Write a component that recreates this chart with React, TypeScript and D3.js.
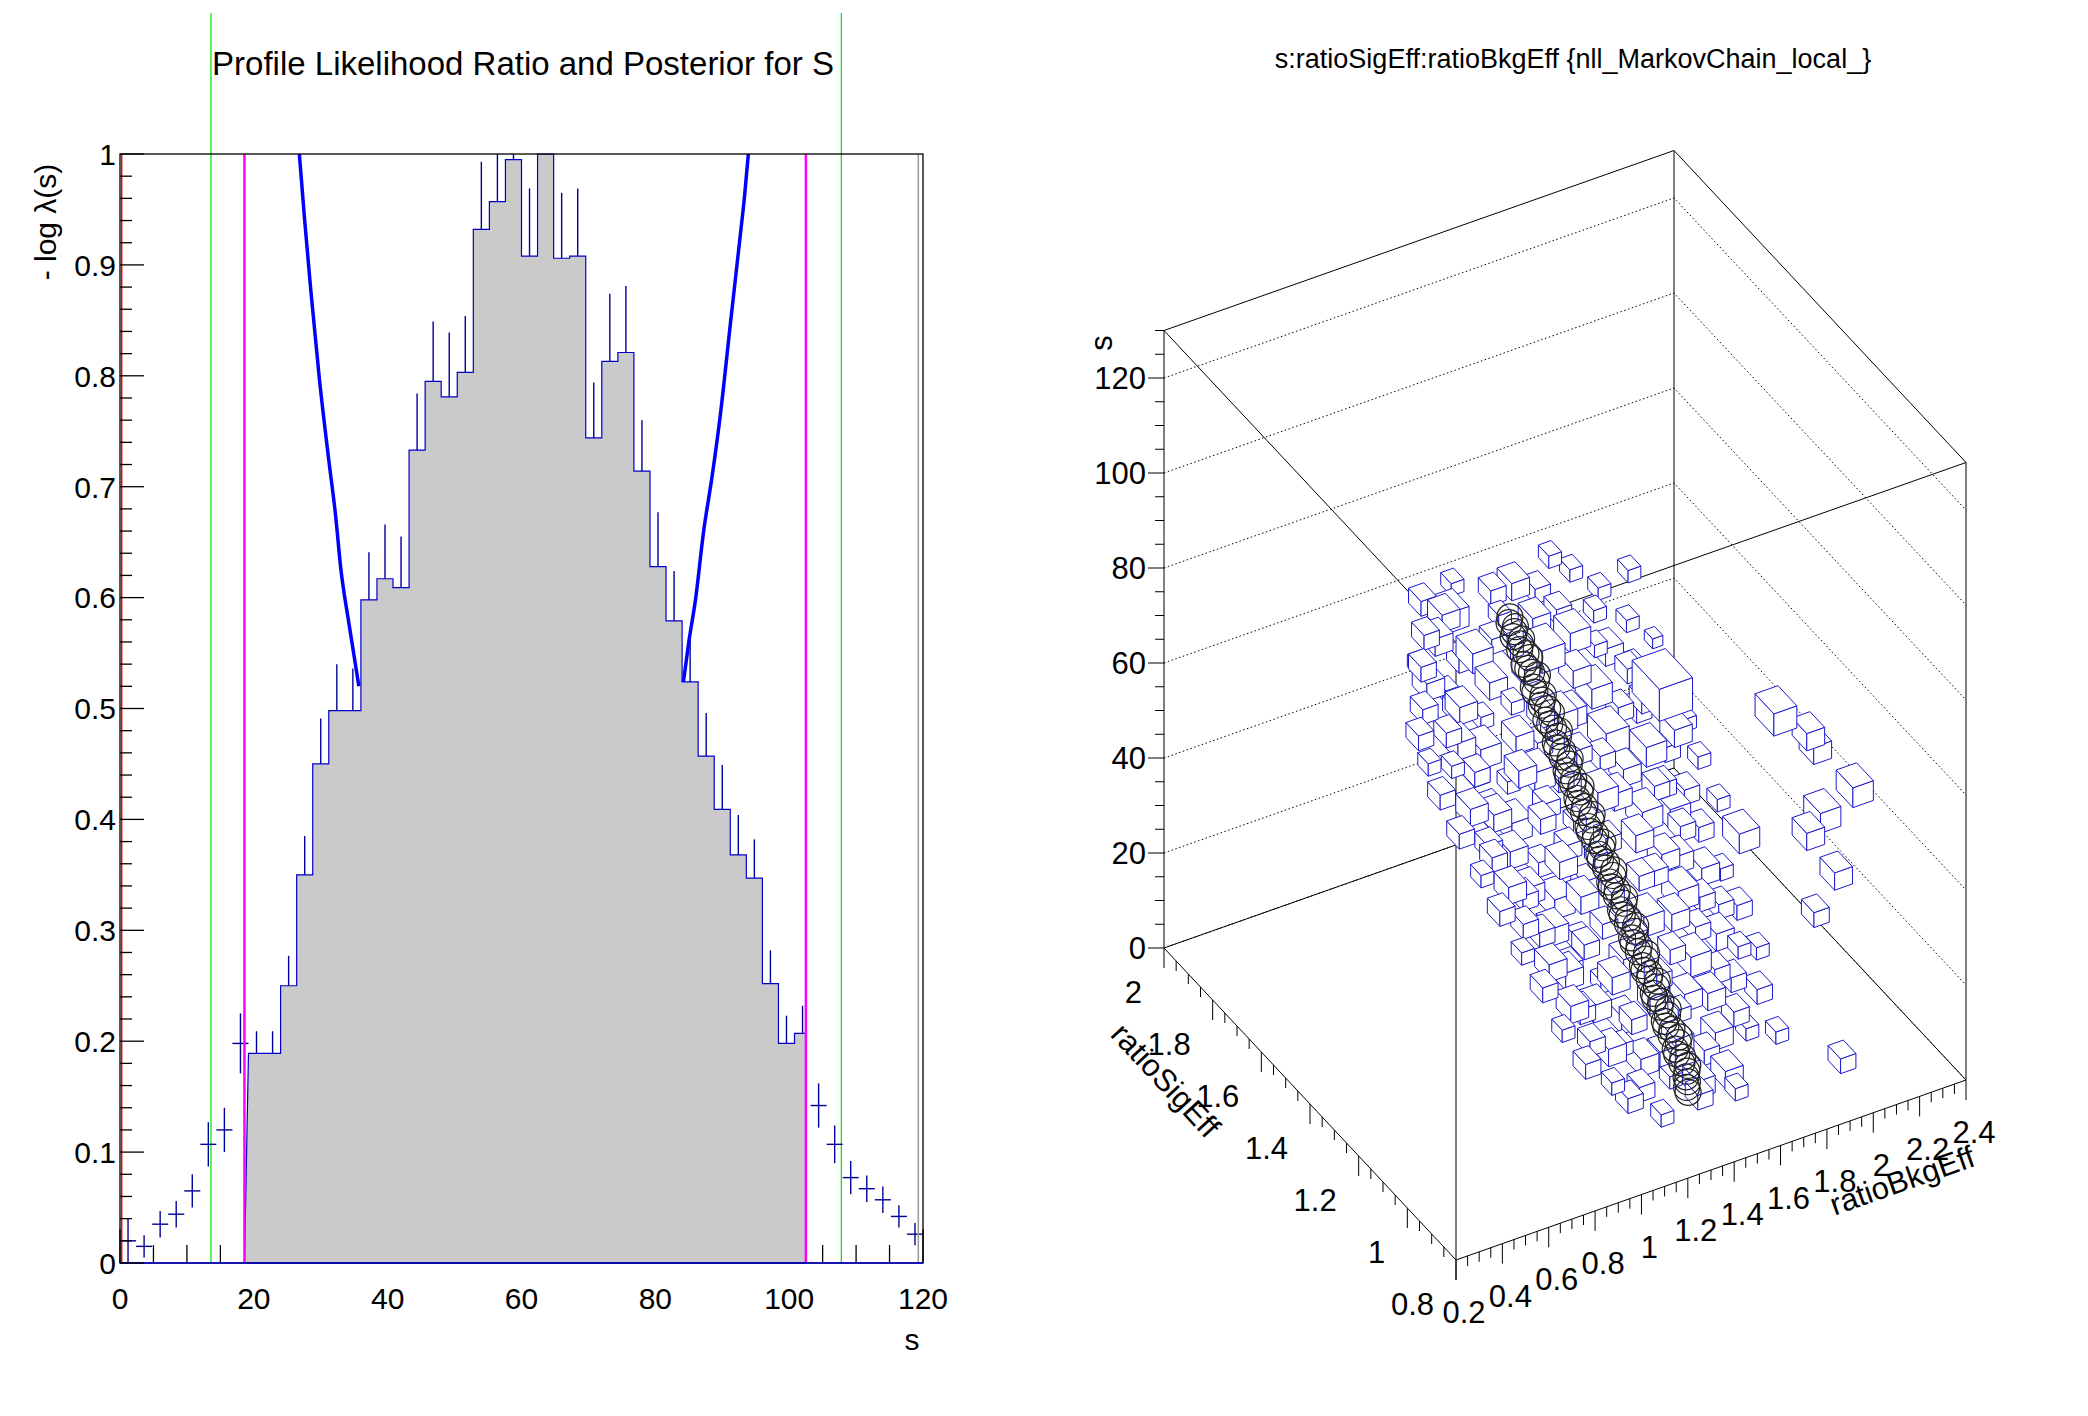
import React from "react";
import * as d3 from "d3";

// ---------- Left panel data ----------
const binWidth = 2.4;
const histFirstBin = 8;
const histValues = [0.189, 0.189, 0.25, 0.35, 0.45, 0.498, 0.498, 0.598, 0.617, 0.609, 0.733, 0.795, 0.781, 0.803, 0.932, 0.957, 0.995, 0.908, 1.02, 0.906, 0.908, 0.744, 0.813, 0.821, 0.714, 0.628, 0.579, 0.524, 0.457, 0.409, 0.368, 0.347, 0.252, 0.198, 0.207];
const pointValues = [0.02, 0.015, 0.035, 0.044, 0.065, 0.107, 0.12, 0.198, 0.189, 0.189, 0.25, 0.35, 0.45, 0.498, 0.498, 0.598, 0.617, 0.609, 0.733, 0.795, 0.781, 0.803, 0.932, 0.957, 0.995, 0.908, 1.02, 0.906, 0.908, 0.744, 0.813, 0.821, 0.714, 0.628, 0.579, 0.524, 0.457, 0.409, 0.368, 0.347, 0.252, 0.198, 0.207, 0.142, 0.107, 0.077, 0.067, 0.057, 0.042, 0.026];
const pointErrors = [0.02, 0.01, 0.012, 0.012, 0.015, 0.02, 0.02, 0.027, 0.02, 0.02, 0.027, 0.035, 0.041, 0.042, 0.038, 0.043, 0.049, 0.046, 0.051, 0.054, 0.058, 0.051, 0.061, 0.06, 0.06, 0.061, 0.06, 0.059, 0.061, 0.05, 0.061, 0.06, 0.046, 0.049, 0.045, 0.045, 0.039, 0.04, 0.036, 0.035, 0.03, 0.025, 0.025, 0.02, 0.017, 0.015, 0.012, 0.012, 0.01, 0.01];
const curveLeft: [number, number][] = [[26.8, 1.0], [27.6, 0.94], [28.5, 0.878], [29.8, 0.797], [31.2, 0.724], [32.2, 0.675], [33.0, 0.626], [34.2, 0.577], [35.7, 0.52]];
const curveRight: [number, number][] = [[84.2, 0.524], [85.0, 0.56], [86.0, 0.598], [87.2, 0.659], [88.5, 0.71], [89.7, 0.764], [91.2, 0.846], [92.7, 0.927], [93.3, 0.96], [93.9, 1.0]];
const greenLines = [13.6, 107.8];
const magentaLines = [18.6, 102.5];
const redLines = [0.25, 119.3];
const xTicksL = [0, 20, 40, 60, 80, 100, 120];
const yTicksL = [0, 0.1, 0.2, 0.3, 0.4, 0.5, 0.6, 0.7, 0.8, 0.9, 1];

// ---------- Right panel data ----------
const sTicks = [0, 20, 40, 60, 80, 100, 120];
const sigTicks = [0.8, 1, 1.2, 1.4, 1.6, 1.8, 2];
const bkgTicks = [0.2, 0.4, 0.6, 0.8, 1, 1.2, 1.4, 1.6, 1.8, 2, 2.2, 2.4];
// boxes: [ratioBkgEff, ratioSigEff, s, relative size]
const boxes: number[][] = [
  [1.0, 1.7, 76, .6], [1.15, 1.72, 76, .5], [1.35, 1.66, 76, .7], [1.55, 1.7, 76, .5], [0.79, 1.5, 76.7, .6], [1.51, 1.2, 76.6, 1.3],
  [0.95, 1.64, 73, .6], [1.1, 1.68, 73, .8], [1.25, 1.62, 73, .5], [1.45, 1.66, 73, .6], [1.62, 1.68, 73, .5],
  [0.88, 1.6, 70, .5], [1.02, 1.66, 70, .7], [1.2, 1.6, 70, .6], [1.5, 1.62, 70, .6], [1.7, 1.64, 70, .5], [1.85, 1.66, 70, .5],
  [0.9, 1.58, 67, .7], [1.08, 1.62, 67, .6], [1.28, 1.6, 67, .5], [1.52, 1.58, 67, .8], [1.66, 1.62, 67, .5],
  [0.85, 1.55, 64, .6], [0.98, 1.58, 64, .5], [1.15, 1.56, 64, .7], [1.42, 1.6, 64, .9], [1.6, 1.56, 64, .5], [1.78, 1.6, 64, .5],
  [0.8, 1.52, 61, .6], [1.0, 1.56, 61, .6], [1.2, 1.52, 61, .5], [1.5, 1.55, 61, .7], [1.68, 1.5, 61, .6], [1.85, 1.56, 61, .4],
  [0.95, 1.5, 58, .7], [1.1, 1.55, 58, .5], [1.3, 1.5, 58, .6], [1.55, 1.52, 58, .8], [1.75, 1.55, 58, .5],
  [0.9, 1.48, 55, .5], [1.05, 1.5, 55, .8], [1.25, 1.46, 55, .6], [1.45, 1.52, 55, .7], [1.62, 1.48, 55, .6], [1.82, 1.5, 55, .5], [0.82, 1.5, 55.8, .5],
  [0.82, 1.45, 52, .6], [1.0, 1.48, 52, .6], [1.15, 1.44, 52, .7], [1.55, 1.46, 52, .9], [1.72, 1.5, 52, .6],
  [0.92, 1.42, 49, .7], [1.12, 1.46, 49, .5], [1.3, 1.42, 49, .6], [1.5, 1.44, 49, .6], [1.68, 1.42, 49, .8], [1.88, 1.46, 49, .5],
  [0.85, 1.4, 46, .6], [1.02, 1.44, 46, .7], [1.22, 1.4, 46, .6], [1.58, 1.42, 46, .7], [1.78, 1.44, 46, .6],
  [0.95, 1.38, 43, .6], [1.1, 1.42, 43, .8], [1.3, 1.36, 43, .5], [1.52, 1.4, 43, .7], [1.7, 1.38, 43, .6], [1.9, 1.42, 43, .5],
  [0.88, 1.34, 40, .5], [1.05, 1.38, 40, .7], [1.25, 1.34, 40, .6], [1.6, 1.36, 40, .8], [1.8, 1.38, 40, .6],
  [0.98, 1.32, 37, .7], [1.15, 1.36, 37, .6], [1.35, 1.32, 37, .5], [1.55, 1.34, 37, .7], [1.72, 1.32, 37, .6], [1.92, 1.36, 37, .5],
  [0.92, 1.3, 34, .6], [1.08, 1.34, 34, .7], [1.28, 1.3, 34, .6], [1.62, 1.3, 34, .7], [1.82, 1.34, 34, .6],
  [1.0, 1.28, 31, .6], [1.18, 1.32, 31, .8], [1.38, 1.28, 31, .5], [1.58, 1.3, 31, .6], [1.75, 1.26, 31, .7],
  [0.95, 1.24, 28, .5], [1.12, 1.28, 28, .7], [1.3, 1.24, 28, .6], [1.65, 1.26, 28, .8], [1.85, 1.28, 28, .5],
  [1.05, 1.22, 25, .7], [1.22, 1.26, 25, .6], [1.42, 1.22, 25, .5], [1.6, 1.24, 25, .7], [1.78, 1.22, 25, .6],
  [1.0, 1.2, 22, .6], [1.15, 1.24, 22, .6], [1.35, 1.2, 22, .7], [1.68, 1.22, 22, .6], [1.88, 1.24, 22, .6],
  [1.08, 1.16, 19, .7], [1.25, 1.2, 19, .5], [1.45, 1.16, 19, .6], [1.62, 1.18, 19, .8], [1.8, 1.16, 19, .5],
  [1.02, 1.14, 16, .5], [1.2, 1.18, 16, .7], [1.4, 1.14, 16, .6], [1.7, 1.16, 16, .6], [1.9, 1.18, 16, .5],
  [1.12, 1.12, 13, .6], [1.3, 1.16, 13, .7], [1.5, 1.12, 13, .5], [1.65, 1.14, 13, .7], [1.82, 1.1, 13, .6],
  [1.08, 1.1, 10, .6], [1.25, 1.12, 10, .5], [1.45, 1.08, 10, .7], [1.72, 1.1, 10, .6],
  [1.15, 1.06, 7, .5], [1.32, 1.1, 7, .7], [1.55, 1.06, 7, .6], [1.75, 1.08, 7, .5],
  [1.2, 1.04, 4, .6], [1.4, 1.06, 4, .5], [1.6, 1.02, 4, .7],
  [1.3, 1.0, 1, .5], [1.48, 1.02, 1, .6], [1.62, 1.0, 1, .5],
  [1.05, 1.66, 74.5, .7], [1.28, 1.68, 74.5, .6], [1.42, 1.64, 68.5, .7], [1.12, 1.6, 68.5, .8],
  [1.0, 1.54, 62.5, .7], [1.32, 1.58, 62.5, .6], [1.65, 1.56, 62.5, .7], [0.92, 1.52, 59.5, .6],
  [1.18, 1.48, 56.5, .7], [1.38, 1.5, 56.5, .8], [1.7, 1.46, 56.5, .6], [0.98, 1.46, 53.5, .6],
  [1.22, 1.44, 50.5, .8], [1.42, 1.46, 50.5, .6], [1.8, 1.42, 50.5, .7], [1.0, 1.4, 47.5, .7],
  [1.18, 1.38, 44.5, .6], [1.45, 1.4, 44.5, .8], [1.65, 1.36, 44.5, .6], [0.95, 1.36, 41.5, .6],
  [1.2, 1.32, 38.5, .7], [1.42, 1.34, 38.5, .6], [1.72, 1.36, 38.5, .8], [1.02, 1.3, 35.5, .6],
  [1.25, 1.28, 32.5, .7], [1.5, 1.28, 32.5, .6], [1.68, 1.3, 32.5, .7], [1.05, 1.26, 29.5, .6],
  [1.2, 1.22, 26.5, .6], [1.48, 1.24, 26.5, .8], [1.72, 1.24, 26.5, .6], [1.1, 1.2, 23.5, .7],
  [1.28, 1.18, 20.5, .7], [1.55, 1.2, 20.5, .6], [1.75, 1.2, 20.5, .7], [1.12, 1.16, 17.5, .6],
  [1.3, 1.12, 14.5, .6], [1.55, 1.14, 14.5, .7], [1.75, 1.14, 14.5, .6], [1.18, 1.1, 11.5, .7],
  [1.38, 1.08, 8.5, .6], [1.62, 1.08, 8.5, .7], [1.25, 1.04, 5.5, .6], [1.5, 1.04, 2.5, .7],
  [2.0, 1.2, 62.7, .9], [2.14, 1.2, 56, .7], [2.17, 1.2, 52.6, .7], [2.34, 1.2, 41.2, .8], [2.2, 1.2, 38.2, .8],
  [2.14, 1.2, 35, .7], [1.85, 1.2, 39.9, .8], [2.26, 1.2, 24.6, .7], [2.17, 1.2, 17.7, .6], [1.97, 0.9, 6.8, .6], [1.69, 0.9, 17.2, .5],
];
// Markov chain circles
const circS = [70.5, 69.8, 69, 68.4, 67.8, 67.1, 66.5, 65.8, 65, 64.3, 63.7, 63, 62.3, 61.7, 61, 60.3, 59.6, 58.9, 58.2, 57.6, 56.9, 56.2, 55.5, 54.8, 54.1, 53.5, 52.8, 52.1, 51.4, 50.7, 50, 49.4, 48.7, 48, 47.3, 46.6, 45.9, 45.3, 44.6, 43.9, 43.2, 42.5, 41.8, 41.2, 40.5, 39.8, 39.1, 38.4, 37.7, 37.1, 36.4, 35.7, 35, 34.3, 33.6, 33, 32.3, 31.6, 30.9, 30.2, 29.5, 28.9, 28.2, 27.5, 26.8, 26.1, 25.4, 24.8, 24.1, 23.4, 22.7, 22, 21.3, 20.7, 20, 19.3, 18.6, 17.9, 17.2, 16.6, 15.9, 15.2, 14.5, 13.8, 13.1, 12.5, 11.8, 11.1, 10.4, 9.7, 9, 8.4, 7.7, 7, 6.3, 5.6, 4.9, 4.3, 3.6, 2.9, 2.2, 1.5, 0.8];
const circG = [1.636, 1.630, 1.623, 1.618, 1.613, 1.607, 1.602, 1.596, 1.589, 1.583, 1.578, 1.572, 1.566, 1.561, 1.555, 1.549, 1.543, 1.537, 1.531, 1.526, 1.519, 1.513, 1.507, 1.501, 1.495, 1.490, 1.484, 1.478, 1.472, 1.466, 1.46, 1.455, 1.449, 1.443, 1.437, 1.431, 1.425, 1.420, 1.414, 1.408, 1.402, 1.396, 1.39, 1.384, 1.378, 1.372, 1.366, 1.360, 1.354, 1.349, 1.343, 1.337, 1.331, 1.325, 1.319, 1.314, 1.308, 1.302, 1.296, 1.290, 1.284, 1.279, 1.273, 1.267, 1.26, 1.254, 1.248, 1.243, 1.237, 1.231, 1.225, 1.219, 1.213, 1.208, 1.202, 1.196, 1.19, 1.184, 1.178, 1.173, 1.167, 1.161, 1.155, 1.149, 1.143, 1.138, 1.131, 1.125, 1.119, 1.113, 1.107, 1.102, 1.096, 1.090, 1.084, 1.078, 1.072, 1.067, 1.061, 1.055, 1.049, 1.043, 1.037];
const circB = [1.31, 1.30, 1.32, 1.31, 1.30, 1.33, 1.32, 1.31, 1.33, 1.34, 1.31, 1.32, 1.33, 1.35, 1.34, 1.32, 1.32, 1.35, 1.34, 1.33, 1.35, 1.36, 1.33, 1.34, 1.35, 1.37, 1.36, 1.34, 1.34, 1.36, 1.35, 1.38, 1.37, 1.35, 1.35, 1.37, 1.36, 1.39, 1.38, 1.36, 1.36, 1.38, 1.37, 1.40, 1.39, 1.37, 1.37, 1.39, 1.38, 1.41, 1.4, 1.38, 1.38, 1.40, 1.39, 1.42, 1.41, 1.39, 1.39, 1.41, 1.4, 1.43, 1.42, 1.40, 1.4, 1.42, 1.41, 1.44, 1.43, 1.41, 1.41, 1.43, 1.42, 1.45, 1.44, 1.42, 1.42, 1.44, 1.43, 1.46, 1.45, 1.43, 1.43, 1.45, 1.44, 1.47, 1.46, 1.44, 1.44, 1.46, 1.45, 1.48, 1.47, 1.45, 1.45, 1.47, 1.46, 1.48, 1.47, 1.46, 1.46, 1.45, 1.45];

const FONT = "'Liberation Sans', Arial, sans-serif";

function LeftPanel() {
  const x = d3.scaleLinear().domain([0, 120]).range([120, 923]);
  const y = d3.scaleLinear().domain([0, 1]).range([1263, 154]);
  const clampY = (v: number) => Math.max(y(1), y(v));
  const [lo, hi] = magentaLines;
  let d = `M${x(lo)},${y(0)}`;
  histValues.forEach((v, i) => {
    const k = histFirstBin + i;
    const a = Math.max(lo, k * binWidth);
    const b = Math.min(hi, (k + 1) * binWidth);
    d += `L${x(a)},${clampY(v)}L${x(b)},${clampY(v)}`;
  });
  d += `L${x(hi)},${y(0)}Z`;
  const line = d3.line<[number, number]>().x(p => x(p[0])).y(p => y(p[1])).curve(d3.curveMonotoneX);
  const minor: number[] = d3.range(0, 1.0001, 0.02);
  const xMinor: number[] = d3.range(0, 120.001, 5);
  return (
    <g fontFamily={FONT}>
      {greenLines.map((v, i) => <line key={"g" + i} x1={x(v)} x2={x(v)} y1={13} y2={y(0)} stroke="#00ee00" strokeWidth={1.3} />)}
      <text x={523} y={75} fontSize={33} textAnchor="middle">Profile Likelihood Ratio and Posterior for S</text>
      {xMinor.map((v, i) => <line key={"xt" + i} x1={x(v)} x2={x(v)} y1={y(0)} y2={y(0) - (v % 20 === 0 ? 34 : 18)} stroke="#000" strokeWidth={1.3} />)}
      <path d={d} fill="#cacaca" stroke="#0000cc" strokeWidth={1.2} />
      {pointValues.map((v, i) => {
        const cx = x((i + 0.5) * binWidth);
        const inside = i >= histFirstBin && i < histFirstBin + histValues.length;
        const top = clampY(v + pointErrors[i]);
        const bot = clampY(inside ? v : Math.max(0, v - pointErrors[i]));
        return (
          <g key={"p" + i} stroke="#000099" strokeWidth={1.4}>
            {bot > top && <line x1={cx} x2={cx} y1={top} y2={bot} />}
            {!inside && <line x1={x(i * binWidth)} x2={x((i + 1) * binWidth)} y1={y(v)} y2={y(v)} />}
          </g>
        );
      })}
      <path d={line(curveLeft) || ""} fill="none" stroke="#0000ff" strokeWidth={3.5} />
      <path d={line(curveRight) || ""} fill="none" stroke="#0000ff" strokeWidth={3.5} />
      {magentaLines.map((v, i) => <line key={"m" + i} x1={x(v)} x2={x(v)} y1={y(1)} y2={y(0)} stroke="#ff00ff" strokeWidth={2.5} />)}
      {redLines.map((v, i) => <line key={"r" + i} x1={x(v)} x2={x(v)} y1={y(1)} y2={y(0)} stroke={i === 0 ? "#ff0000" : "#999999"} strokeWidth={1.5} />)}
      <rect x={x(0)} y={y(1)} width={x(120) - x(0)} height={y(0) - y(1)} fill="none" stroke="#000" strokeWidth={1.3} />
      <line x1={x(0)} x2={x(120)} y1={y(0)} y2={y(0)} stroke="#0000cc" strokeWidth={1.3} />
      {minor.map((v, i) => {
        const major = Math.abs(v * 10 - Math.round(v * 10)) < 1e-6;
        return <line key={"yt" + i} x1={x(0)} x2={x(0) + (major ? 24 : 12)} y1={y(v)} y2={y(v)} stroke="#000" strokeWidth={1.3} />;
      })}
      {yTicksL.map((v, i) => <text key={"yl" + i} x={116} y={y(v)} dy="0.36em" fontSize={30} textAnchor="end">{v}</text>)}
      {xTicksL.map((v, i) => <text key={"xl" + i} x={x(v)} y={1309} fontSize={30} textAnchor="middle">{v}</text>)}
      <text x={912} y={1350} fontSize={30} textAnchor="middle">s</text>
      <text transform="translate(56,222) rotate(-90)" fontSize={30} textAnchor="middle">- log λ(s)</text>
    </g>
  );
}

function RightPanel() {
  const fb = d3.scaleLinear().domain([0.2, 2.4]).range([0, 1]);
  const fg = d3.scaleLinear().domain([0.8, 2.0]).range([0, 1]);
  const fs = d3.scaleLinear().domain([0, 130]).range([0, 1]);
  const B = [1456, 1260];
  const vb = [510, -180];
  const vg = [-292, -312];
  const vs = [0, -617.5];
  const P = (b: number, g: number, s: number): [number, number] => {
    const u = fb(b), w = fg(g), z = fs(s);
    return [B[0] + u * vb[0] + w * vg[0] + z * vs[0], B[1] + u * vb[1] + w * vg[1] + z * vs[1]];
  };
  const pts = (arr: [number, number][]) => arr.map(p => p.join(",")).join(" ");
  const A = P(0.2, 2.0, 0), Bp = P(0.2, 0.8, 0), C = P(2.4, 0.8, 0), D = P(2.4, 2.0, 0);
  const A2 = P(0.2, 2.0, 130), B2 = P(0.2, 0.8, 130), C2 = P(2.4, 0.8, 130), D2 = P(2.4, 2.0, 130);
  const edges: [number, number][][] = [[A, A2], [A2, D2], [D2, C2], [C2, C], [D2, D], [A, D], [D, C], [A, Bp], [Bp, C], [Bp, B2], [A2, B2], [B2, C2]];
  const hb = 0.055, hg = 0.043, hs = 2.6;
  const sorted = boxes.slice().sort((p, q) => (fb(q[0]) + fg(q[1]) - 0.3 * fs(q[2])) - (fb(p[0]) + fg(p[1]) - 0.3 * fs(p[2])));
  const sMinor = d3.range(0, 130.001, 5);
  const sigMinor = d3.range(0.8, 2.0001, 0.05);
  const bkgMinor = d3.range(0.2, 2.4001, 0.05);
  return (
    <g fontFamily={FONT}>
      <text x={1573} y={68} fontSize={27} textAnchor="middle">s:ratioSigEff:ratioBkgEff {"{nll_MarkovChain_local_}"}</text>
      {sTicks.map((s, i) => {
        const a = P(0.2, 2.0, s), dd = P(2.4, 2.0, s), c = P(2.4, 0.8, s);
        return <polyline key={"gr" + i} points={pts([a, dd, c])} fill="none" stroke="#000" strokeWidth={1} strokeDasharray="1.5,2.5" />;
      })}
      {edges.map((e, i) => <line key={"e" + i} x1={e[0][0]} y1={e[0][1]} x2={e[1][0]} y2={e[1][1]} stroke="#000" strokeWidth={1} />)}
      {sorted.map((bx, i) => {
        const [b, g, s, w] = bx;
        const db = hb * w, dg = hg * w, ds = hs * w;
        const top: [number, number][] = [P(b - db, g - dg, s + ds), P(b + db, g - dg, s + ds), P(b + db, g + dg, s + ds), P(b - db, g + dg, s + ds)];
        const faceB: [number, number][] = [P(b - db, g - dg, s - ds), P(b - db, g + dg, s - ds), P(b - db, g + dg, s + ds), P(b - db, g - dg, s + ds)];
        const faceG: [number, number][] = [P(b - db, g - dg, s - ds), P(b + db, g - dg, s - ds), P(b + db, g - dg, s + ds), P(b - db, g - dg, s + ds)];
        return (
          <g key={"bx" + i} fill="#fff" stroke="#1a1acc" strokeWidth={1}>
            <polygon points={pts(faceB)} />
            <polygon points={pts(faceG)} />
            <polygon points={pts(top)} />
          </g>
        );
      })}
      {circS.map((s, i) => {
        const [cx, cy] = P(circB[i], circG[i], s);
        return <circle key={"c" + i} cx={cx} cy={cy} r={13} fill="none" stroke="#222" strokeWidth={1.2} />;
      })}
      {sMinor.map((s, i) => {
        const [px, py] = P(0.2, 2.0, s);
        return <line key={"st" + i} x1={px} x2={px - (s % 20 === 0 ? 16 : 9)} y1={py} y2={py} stroke="#000" strokeWidth={1} />;
      })}
      {sTicks.map((s, i) => {
        const [px, py] = P(0.2, 2.0, s);
        return <text key={"sl" + i} x={px - 18} y={py} dy="0.36em" fontSize={31} textAnchor="end">{s}</text>;
      })}
      <text transform={`translate(${1112},${343}) rotate(-90)`} fontSize={31} textAnchor="middle">s</text>
      {sigMinor.map((g, i) => {
        const [px, py] = P(0.2, g, 0);
        const major = Math.abs(g * 5 - Math.round(g * 5)) < 1e-6;
        return <line key={"gt" + i} x1={px} x2={px} y1={py} y2={py + (major ? 20 : 10)} stroke="#000" strokeWidth={1} />;
      })}
      {sigTicks.map((g, i) => {
        const [px, py] = P(0.2, g, 0);
        return <text key={"gl" + i} x={px - 22} y={py + 44} dy="0.36em" fontSize={31} textAnchor="end">{g}</text>;
      })}
      {bkgMinor.map((b, i) => {
        const [px, py] = P(b, 0.8, 0);
        const major = Math.abs(b * 5 - Math.round(b * 5)) < 1e-6;
        return <line key={"bt" + i} x1={px} x2={px} y1={py} y2={py + (major ? 20 : 10)} stroke="#000" strokeWidth={1} />;
      })}
      {bkgTicks.map((b, i) => {
        const [px, py] = P(b, 0.8, 0);
        return <text key={"bl" + i} x={px + 8} y={py + 52} dy="0.36em" fontSize={31} textAnchor="middle">{b}</text>;
      })}
      <text transform="translate(1166,1080) rotate(47)" fontSize={31} textAnchor="middle" dy="0.36em">ratioSigEff</text>
      <text transform="translate(1902,1180) rotate(-19.4)" fontSize={31} textAnchor="middle" dy="0.36em">ratioBkgEff</text>
    </g>
  );
}

export default function App() {
  return (
    <svg width={2088} height={1416} style={{ position: "absolute", left: 0, top: 0, background: "#fff" }}>
      <rect width={2088} height={1416} fill="#fff" />
      <LeftPanel />
      <RightPanel />
    </svg>
  );
}
